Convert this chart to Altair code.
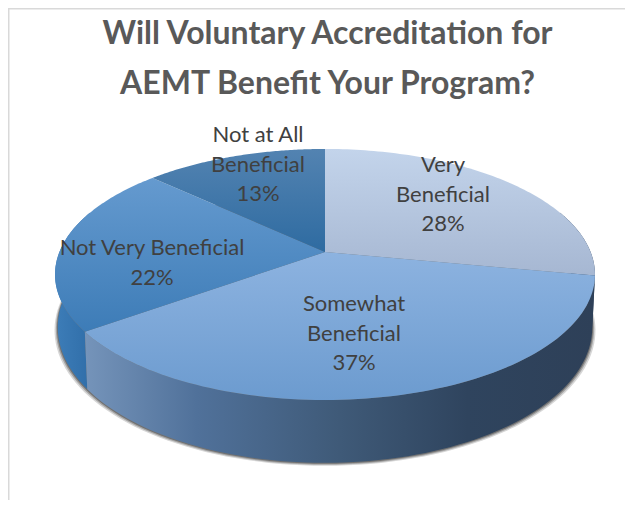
import numpy as np
import pandas as pd
import altair as alt

# --- data -------------------------------------------------------------
categories = ["Very Beneficial", "Somewhat Beneficial", "Not Very Beneficial", "Not at All Beneficial"]
percent = [28, 37, 22, 13]
label_text = ["Very\nBeneficial\n28%", "Somewhat\nBeneficial\n37%",
              "Not Very Beneficial\n22%", "Not at All\nBeneficial\n13%"]

# --- layout (pixel-like data space) ------------------------------------
label_x = [443, 354, 152, 258]
label_y = [165, 304, 248, 135]
APEX_X, APEX_Y = 325, 252
B, A, K = 265.6, 121.5, 0.179     # perspective pie
DEPTH_Y, DEPTH_C, DEPTH_X = 51, 1.08, 0.99

xs = alt.Scale(domain=[8, 625], nice=False, zero=False)
ys = alt.Scale(domain=[500, 8], nice=False, zero=False)


def rim(t_deg):
    t = np.radians(t_deg)
    s = -np.cos(t)
    d = 1 - K * s
    return B * np.sin(t) / d, A * s / d


def top(t_deg):
    x, y = rim(t_deg)
    return APEX_X + x, APEX_Y + y


def low(t_deg, grow=0.0, drop=0.0):
    x, y = rim(t_deg)
    return APEX_X + x * DEPTH_X * (1 + grow), APEX_Y + y * DEPTH_C + DEPTH_Y + drop


def poly(px, py, fill, opacity=None):
    df = pd.DataFrame({"px": px, "py": py, "i": np.arange(len(px))})
    kw = dict(fill=fill, strokeOpacity=0, strokeWidth=0, interpolate="linear")
    if opacity is not None:
        kw["fillOpacity"] = opacity
    return alt.Chart(df).mark_line(**kw).encode(
        x=alt.X("px:Q", scale=xs, axis=None),
        y=alt.Y("py:Q", scale=ys, axis=None),
        order=alt.Order("i:Q"),
    )


def grad(colors, offsets, horizontal=False):
    return alt.LinearGradient(
        gradient="linear",
        stops=[alt.GradientStop(color=c, offset=o) for c, o in zip(colors, offsets)],
        x1=0, y1=0,
        x2=1 if horizontal else 0,
        y2=0 if horizontal else 1,
    )


edges = np.cumsum([0] + percent) * 3.6
layers = []

# soft shadow under the base
full = np.linspace(0, 360, 181)
for grow, drop, op in [(0.012, 3.0, 0.2), (0.007, 2.0, 0.3), (0.003, 1.0, 0.45)]:
    sx, sy = low(full, grow, drop)
    layers.append(poly(sx, sy, "#333333", op))


def side(t0, t1, fill):
    t = np.linspace(t0, t1, 80)
    ax, ay = top(t)
    bx, by = low(t[::-1])
    return poly(np.r_[ax, bx], np.r_[ay, by], fill)


layers.append(side(70, edges[1], "#2E4560"))
layers.append(side(edges[2], 290, grad(["#3D7DB8", "#2F6DA8"], [0, 1], True)))
layers.append(side(edges[1], edges[2],
                   grad(["#7594BA", "#50719A", "#3F5A78", "#2F445E", "#2E4058"],
                        [0, 0.22, 0.5, 0.75, 1], True)))

# top wedges
top_fills = [
    grad(["#C3D4EB", "#A6B7D2"], [0, 1]),
    grad(["#8DB3E0", "#6C9BCF"], [0, 1]),
    grad(["#659ACF", "#3D7CB7"], [0, 1]),
    grad(["#5383B1", "#2E6BA1"], [0, 1]),
]
for k in range(4):
    t = np.linspace(edges[k], edges[k + 1], 90)
    wx, wy = top(t)
    layers.append(poly(np.r_[APEX_X, wx, APEX_X], np.r_[APEX_Y, wy, APEX_Y], top_fills[k]))

# chart frame
frame_h = pd.DataFrame({"x": [8], "x2": [625], "y": [8.5]})
frame_v = pd.DataFrame({"x": [8.5], "y": [8], "y2": [500]})
layers.append(alt.Chart(frame_h).mark_rule(color="#D9D9D9", strokeWidth=2).encode(
    x=alt.X("x:Q", scale=xs, axis=None), x2="x2:Q", y=alt.Y("y:Q", scale=ys, axis=None)))
layers.append(alt.Chart(frame_v).mark_rule(color="#D9D9D9", strokeWidth=2).encode(
    x=alt.X("x:Q", scale=xs, axis=None), y=alt.Y("y:Q", scale=ys, axis=None), y2="y2:Q"))

# labels
labels = pd.DataFrame({"category": categories, "text": label_text, "lx": label_x, "ly": label_y})
layers.append(alt.Chart(labels).mark_text(
    font="Lato", fontSize=22, color="#404040", lineBreak="\n", lineHeight=29.5,
    align="center", baseline="middle",
).encode(
    x=alt.X("lx:Q", scale=xs, axis=None),
    y=alt.Y("ly:Q", scale=ys, axis=None),
    text="text:N",
))

chart = alt.layer(*layers).properties(
    width=617, height=492,
    padding=0,
    autosize=alt.AutoSizeParams(type="none"),
    background="white",
    title=alt.TitleParams(
        text=["Will Voluntary Accreditation for", "AEMT Benefit Your Program?"],
        font="Lato", fontSize=32, fontWeight="bold", color="#595959",
        anchor="middle", align="center", baseline="top", lineHeight=50, offset=0,
        dy=94, dx=11,
    ),
).configure_view(stroke=None)

chart.save("out.html", embed_options={"renderer": "svg", "actions": False})
